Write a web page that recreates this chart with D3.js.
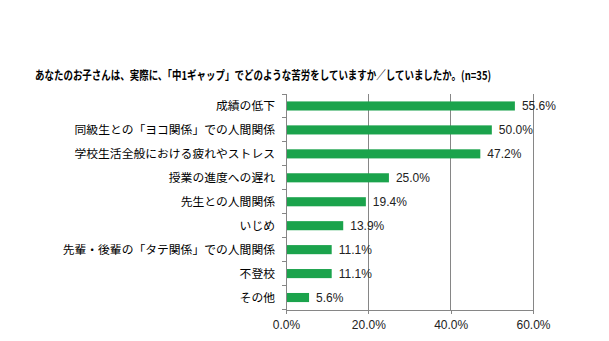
<!DOCTYPE html>
<html><head><meta charset="utf-8">
<script src="https://cdn.jsdelivr.net/npm/d3@7"></script>
<style>body{margin:0;background:#fff}svg{display:block}</style>
</head><body>
<svg id="c" width="609" height="341"></svg>
<script>
const title = "あなたのお子さんは、実際に、「中1ギャップ」でどのような苦労をしていますか／していましたか。(n=35)";
const categories = ["成績の低下","同級生との「ヨコ関係」での人間関係","学校生活全般における疲れやストレス","授業の進度への遅れ","先生との人間関係","いじめ","先輩・後輩の「タテ関係」での人間関係","不登校","その他"];
const values = [55.6,50.0,47.2,25.0,19.4,13.9,11.1,11.1,5.6];
const xTicks = [0,20,40,60];

(function(){
const svg = d3.select("#c");
const pl = 286, pr = 533, pt = 94, pb = 309.5;
const x = d3.scaleLinear().domain([0,60]).range([pl,pr]);
const y = d3.scaleBand().domain(categories).range([pt,pb]).paddingInner(0.62).paddingOuter(0.31);
const font = "'Noto Sans CJK JP','Noto Sans',sans-serif";
const numFont = "'Liberation Sans',Arial,sans-serif";

const tg = svg.append("g");
const tt = tg.append("text").attr("x",0).attr("y",0).attr("font-family",font).attr("font-weight","bold")
  .attr("font-size",12).attr("fill","#000").text(title);
const w = tt.node().getComputedTextLength();
const sx = Math.min(1, 457 / w);
tg.attr("transform",`translate(35,79.5) scale(${sx},1)`);

// gridlines
svg.append("g").selectAll("line").data(xTicks.slice(1)).join("line")
  .attr("x1",d=>x(d)).attr("x2",d=>x(d)).attr("y1",pt).attr("y2",pb)
  .attr("stroke","#868686").attr("stroke-width",1).attr("shape-rendering","crispEdges");

// bars
svg.append("g").selectAll("rect").data(values).join("rect")
  .attr("x",x(0)+1).attr("y",(d,i)=>y(categories[i]))
  .attr("width",d=>x(d)-x(0)-1).attr("height",y.bandwidth())
  .attr("fill","#1ba34c");

// value labels
svg.append("g").selectAll("text").data(values).join("text")
  .attr("x",d=>x(d)+7).attr("y",(d,i)=>y(categories[i])+y.bandwidth()/2)
  .attr("dy","0.36em").attr("font-family",numFont).attr("font-size",12).attr("fill","#222")
  .text(d=>d.toFixed(1)+"%");

// left axis
const gy = svg.append("g").attr("transform",`translate(${pl},0)`);
gy.append("line").attr("x1",0).attr("x2",0).attr("y1",pt).attr("y2",pb).attr("stroke","#868686").attr("shape-rendering","crispEdges");
const step = (pb-pt)/categories.length;
gy.selectAll("line.t").data(d3.range(categories.length+1)).join("line").attr("class","t")
  .attr("x1",-4).attr("x2",0).attr("y1",i=>pt+i*step).attr("y2",i=>pt+i*step)
  .attr("stroke","#868686").attr("shape-rendering","crispEdges");
gy.selectAll("text").data(categories).join("text")
  .attr("x",-11).attr("y",d=>y(d)+y.bandwidth()/2).attr("dy","0.36em")
  .attr("text-anchor","end").attr("font-family",font).attr("font-size",11.8).attr("fill","#000").text(d=>d);

// bottom axis
const xAxis = d3.axisBottom(x).tickValues(xTicks).tickSize(4).tickSizeOuter(0).tickFormat(d=>d.toFixed(1)+"%");
const gx = svg.append("g").attr("transform",`translate(0,${pb})`).call(xAxis);
gx.select(".domain").attr("stroke","#868686").attr("shape-rendering","crispEdges");
gx.selectAll(".tick line").attr("stroke","#868686").attr("shape-rendering","crispEdges");
gx.selectAll(".tick text").attr("font-family",numFont).attr("font-size",12).attr("fill","#222").attr("dy","1em");
})();
</script>
</body></html>
